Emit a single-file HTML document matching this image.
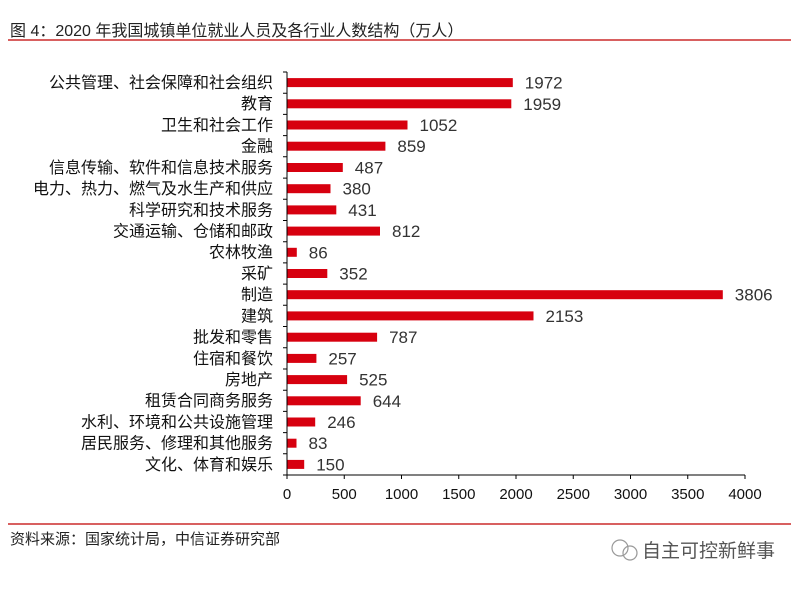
<!DOCTYPE html>
<html><head><meta charset="utf-8"><style>
body{margin:0;background:#fff;width:799px;height:584px;overflow:hidden;}
</style></head><body>
<svg width="799" height="584" xmlns="http://www.w3.org/2000/svg" font-family="Liberation Sans, Noto Sans CJK SC, sans-serif">
<text x="10" y="36" font-size="16" fill="#222">图 4：2020 年我国城镇单位就业人员及各行业人数结构（万人）</text>
<line x1="8" y1="40" x2="791" y2="40" stroke="#c00000" stroke-width="1.3"/>
<line x1="8" y1="524" x2="791" y2="524" stroke="#c00000" stroke-width="1.3"/>
<text x="10" y="544" font-size="15" fill="#222">资料来源：国家统计局，中信证券研究部</text>
<g stroke="#999" fill="none" stroke-width="1.2"><circle cx="620" cy="548" r="8"/><circle cx="630" cy="553" r="7"/></g>
<text x="642" y="557" font-size="19" fill="#555">自主可控新鲜事</text>
<g fill="#d7000f">
<rect x="287" y="78.1" width="225.8" height="9"/>
<rect x="287" y="99.3" width="224.3" height="9"/>
<rect x="287" y="120.5" width="120.5" height="9"/>
<rect x="287" y="141.7" width="98.4" height="9"/>
<rect x="287" y="163" width="55.8" height="9"/>
<rect x="287" y="184.2" width="43.5" height="9"/>
<rect x="287" y="205.4" width="49.3" height="9"/>
<rect x="287" y="226.6" width="93" height="9"/>
<rect x="287" y="247.8" width="9.8" height="9"/>
<rect x="287" y="269" width="40.3" height="9"/>
<rect x="287" y="290.2" width="435.8" height="9"/>
<rect x="287" y="311.4" width="246.5" height="9"/>
<rect x="287" y="332.7" width="90.1" height="9"/>
<rect x="287" y="353.9" width="29.4" height="9"/>
<rect x="287" y="375.1" width="60.1" height="9"/>
<rect x="287" y="396.3" width="73.7" height="9"/>
<rect x="287" y="417.5" width="28.2" height="9"/>
<rect x="287" y="438.7" width="9.5" height="9"/>
<rect x="287" y="459.9" width="17.2" height="9"/>
</g>
<g font-size="16" text-anchor="end" fill="#111">
<text x="273" y="88">公共管理、社会保障和社会组织</text>
<text x="273" y="109.2">教育</text>
<text x="273" y="130.4">卫生和社会工作</text>
<text x="273" y="151.6">金融</text>
<text x="273" y="172.9">信息传输、软件和信息技术服务</text>
<text x="273" y="194.1">电力、热力、燃气及水生产和供应</text>
<text x="273" y="215.3">科学研究和技术服务</text>
<text x="273" y="236.5">交通运输、仓储和邮政</text>
<text x="273" y="257.7">农林牧渔</text>
<text x="273" y="278.9">采矿</text>
<text x="273" y="300.1">制造</text>
<text x="273" y="321.3">建筑</text>
<text x="273" y="342.6">批发和零售</text>
<text x="273" y="363.8">住宿和餐饮</text>
<text x="273" y="385">房地产</text>
<text x="273" y="406.2">租赁合同商务服务</text>
<text x="273" y="427.4">水利、环境和公共设施管理</text>
<text x="273" y="448.6">居民服务、修理和其他服务</text>
<text x="273" y="469.8">文化、体育和娱乐</text>
</g>
<g font-size="17" fill="#333">
<text x="524.8" y="88.6">1972</text>
<text x="523.3" y="109.8">1959</text>
<text x="419.5" y="131">1052</text>
<text x="397.4" y="152.2">859</text>
<text x="354.8" y="173.5">487</text>
<text x="342.5" y="194.7">380</text>
<text x="348.3" y="215.9">431</text>
<text x="392" y="237.1">812</text>
<text x="308.8" y="258.3">86</text>
<text x="339.3" y="279.5">352</text>
<text x="734.8" y="300.7">3806</text>
<text x="545.5" y="321.9">2153</text>
<text x="389.1" y="343.2">787</text>
<text x="328.4" y="364.4">257</text>
<text x="359.1" y="385.6">525</text>
<text x="372.7" y="406.8">644</text>
<text x="327.2" y="428">246</text>
<text x="308.5" y="449.2">83</text>
<text x="316.2" y="470.4">150</text>
</g>
<g stroke="#000" stroke-width="1">
<line x1="287" y1="72" x2="287" y2="475"/>
<line x1="287" y1="475" x2="745" y2="475"/>
<path d="M283 72H287M283 93.2H287M283 114.4H287M283 135.6H287M283 156.8H287M283 178.1H287M283 199.3H287M283 220.5H287M283 241.7H287M283 262.9H287M283 284.1H287M283 305.3H287M283 326.5H287M283 347.7H287M283 369H287M283 390.2H287M283 411.4H287M283 432.6H287M283 453.8H287M283 475H287"/>
<path d="M287 475V479M344.25 475V479M401.5 475V479M458.75 475V479M516 475V479M573.25 475V479M630.5 475V479M687.75 475V479M745 475V479"/>
</g>
<g font-size="15" text-anchor="middle" fill="#111">
<text x="287" y="499">0</text>
<text x="344.25" y="499">500</text>
<text x="401.5" y="499">1000</text>
<text x="458.75" y="499">1500</text>
<text x="516" y="499">2000</text>
<text x="573.25" y="499">2500</text>
<text x="630.5" y="499">3000</text>
<text x="687.75" y="499">3500</text>
<text x="745" y="499">4000</text>
</g>
</svg>
</body></html>
